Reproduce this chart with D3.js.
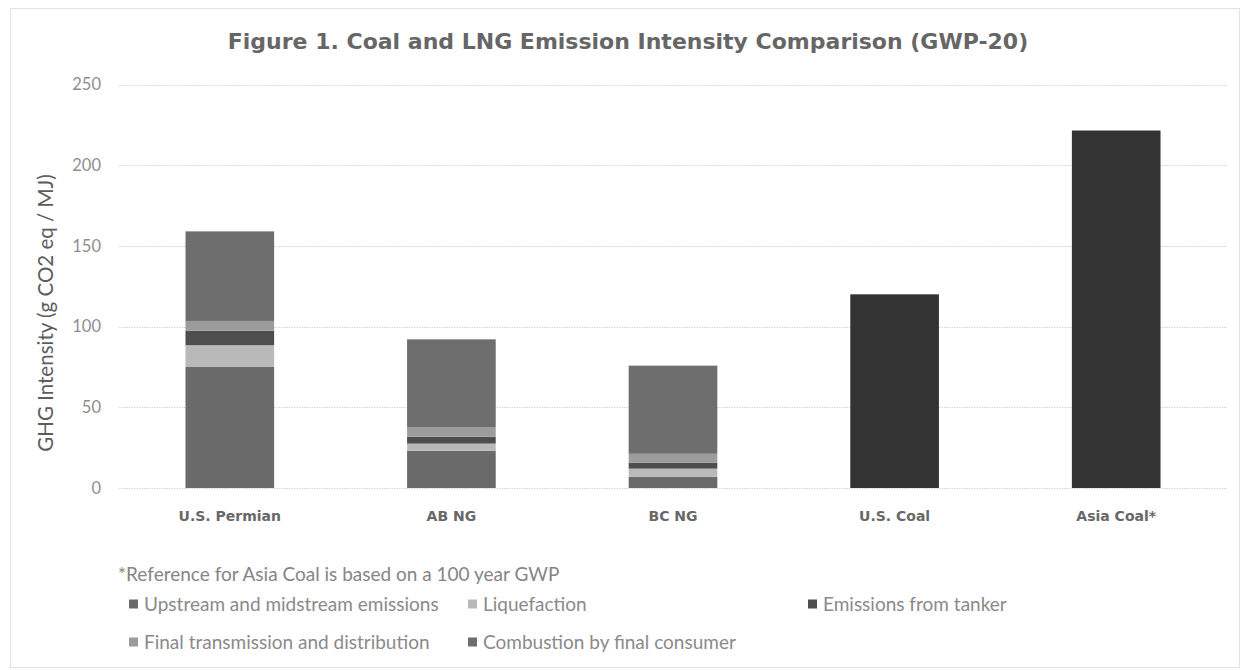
<!DOCTYPE html>
<html>
<head>
<meta charset="utf-8">
<script src="https://cdn.jsdelivr.net/npm/d3@7"></script>
<style>
  html, body { margin: 0; padding: 0; background: #fff; }
  svg { display: block; }
</style>
</head>
<body>
<svg id="chart" width="1249" height="670"></svg>
<script>
// ---- data ----
const categories = ["U.S. Permian", "AB NG", "BC NG", "U.S. Coal", "Asia Coal*"];
const seriesNames = ["Upstream and midstream emissions", "Liquefaction", "Emissions from tanker",
                     "Final transmission and distribution", "Combustion by final consumer", "Coal"];
const upstream     = [75,   23,   7,    0,   0];
const liquefaction = [13.5, 4.5,  5,    0,   0];
const tanker       = [9,    4.3,  3.7,  0,   0];
const finalTD      = [6,    6,    5.5,  0,   0];
const combustion   = [55.5, 54.3, 54.6, 0,   0];
const coal         = [0,    0,    0,    120, 221.5];
const yTicks = [0, 50, 100, 150, 200, 250];
const titleText = "Figure 1. Coal and LNG Emission Intensity Comparison (GWP-20)";
const yLabelText = "GHG Intensity (g CO2 eq / MJ)";
const footnoteText = "*Reference for Asia Coal is based on a 100 year GWP";

// ---- styles ----
const colors = ["#6a6a6a", "#b9b9b9", "#4e4e4e", "#9c9c9c", "#6e6e6e", "#333333"];

const svg = d3.select("#chart");

// outer border
svg.append("rect").attr("x", 10.5).attr("y", 8.5).attr("width", 1229).attr("height", 659)
  .attr("fill", "none").attr("stroke", "#e2e2e2").attr("stroke-width", 1);

const x = d3.scaleBand().domain(categories).range([119, 1227]).paddingInner(0.6).paddingOuter(0.3);
const y = d3.scaleLinear().domain([0, 250]).range([488, 84.5]);

// gridlines
svg.append("g").selectAll("line").data(yTicks).join("line")
  .attr("x1", 119).attr("x2", 1227)
  .attr("y1", d => Math.round(y(d)) + 0.5).attr("y2", d => Math.round(y(d)) + 0.5)
  .attr("stroke", "#d6d6d6").attr("stroke-width", 1)
  .attr("stroke-dasharray", "1.5,1");

// y axis tick labels
const yAxis = d3.axisLeft(y).tickValues(yTicks).tickSize(0).tickPadding(0);
const gy = svg.append("g").attr("transform", "translate(101,0)").call(yAxis);
gy.select(".domain").remove();
gy.selectAll("text").attr("font-family", "Lato").attr("font-size", 16.5).attr("fill", "#8e8e8e");

// stacked data
const table = categories.map((c, i) => ({
  cat: c, s0: upstream[i], s1: liquefaction[i], s2: tanker[i], s3: finalTD[i], s4: combustion[i], s5: coal[i]
}));
const stack = d3.stack().keys(["s0", "s1", "s2", "s3", "s4", "s5"]);
const stacked = stack(table);

svg.append("g").selectAll("g").data(stacked).join("g")
  .attr("fill", (d, i) => colors[i])
  .selectAll("rect").data(d => d).join("rect")
  .attr("x", d => x(d.data.cat))
  .attr("width", x.bandwidth())
  .attr("y", d => y(d[1]))
  .attr("height", d => Math.max(0, y(d[0]) - y(d[1])));

// x axis labels
const xAxis = d3.axisBottom(x).tickSize(0).tickPadding(0);
const gx = svg.append("g").attr("transform", "translate(0,521)").call(xAxis);
gx.select(".domain").remove();
gx.selectAll("text").attr("dy", 0).attr("font-family", "DejaVu Sans").attr("font-weight", "bold")
  .attr("font-size", 14).attr("fill", "#686868");

// title
svg.append("text").attr("x", 628).attr("y", 49).attr("text-anchor", "middle")
  .attr("font-family", "DejaVu Sans").attr("font-weight", "bold").attr("font-size", 22)
  .attr("fill", "#666666").text(titleText);

// y label
svg.append("text").attr("transform", "translate(53,313) rotate(-90)").attr("text-anchor", "middle")
  .attr("font-family", "Lato").attr("font-size", 20.5).attr("fill", "#5c5c5c").text(yLabelText);

// footnote
svg.append("text").attr("x", 118).attr("y", 581)
  .attr("font-family", "Lato").attr("font-size", 19).attr("fill", "#858585").text(footnoteText);

// legend (three equal-width columns, wrapping to a second row)
const legendCols = [129, 468, 808];
const legendRows = [611, 649];
const lg = svg.append("g").selectAll("g").data(seriesNames.slice(0, 5)).join("g")
  .attr("transform", (d, i) => `translate(${legendCols[i % 3]},${legendRows[Math.floor(i / 3)]})`);
lg.append("rect").attr("x", 0).attr("y", -11.5).attr("width", 9).attr("height", 9)
  .attr("fill", (d, i) => colors[i]);
lg.append("text").attr("x", 15).attr("y", 0)
  .attr("font-family", "Lato").attr("font-size", 19).attr("fill", "#8a8a8a").text(d => d);
</script>
</body>
</html>
